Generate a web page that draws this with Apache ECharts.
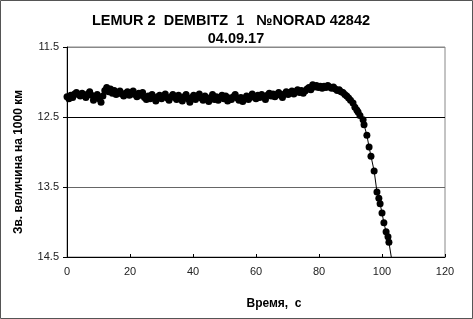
<!DOCTYPE html>
<html><head><meta charset="utf-8">
<script src="https://cdn.jsdelivr.net/npm/echarts@6/dist/echarts.min.js"></script>
<style>html,body{margin:0;padding:0;background:#fff}#c{width:473px;height:319px}</style>
</head><body><div id="c"></div>
<script>
var titleLines = ['LEMUR 2  DEMBITZ  1   \u2116NORAD 42842', '04.09.17'];
var xName = 'Время,  с';
var yName = 'Зв. величина на 1000 км';
var yTicks = [11.5, 12.5, 13.5, 14.5];
var xTicks = [0, 20, 40, 60, 80, 100, 120];

var times = [
 0.0,0.6,1.2,1.8,2.4,3.0,3.6,4.2,4.8,5.4,
 6.0,6.6,7.2,7.8,8.4,9.0,9.6,10.2,10.8,11.4,
 12.0,12.6,13.2,13.8,14.4,15.0,15.6,16.2,16.8,17.4,
 18.0,18.6,19.2,19.8,20.4,21.0,21.6,22.2,22.8,23.4,
 24.0,24.6,25.2,25.8,26.4,27.0,27.6,28.2,28.8,29.4,
 30.0,30.6,31.2,31.8,32.4,33.0,33.6,34.2,34.8,35.4,
 36.0,36.6,37.2,37.8,38.4,39.0,39.6,40.2,40.8,41.4,
 42.0,42.6,43.2,43.8,44.4,45.0,45.6,46.2,46.8,47.4,
 48.0,48.6,49.2,49.8,50.4,51.0,51.6,52.2,52.8,53.4,
 54.0,54.6,55.2,55.8,56.4,57.0,57.6,58.2,58.8,59.4,
 60.0,60.6,61.2,61.8,62.4,63.0,63.6,64.2,64.8,65.4,
 66.0,66.6,67.2,67.8,68.4,69.0,69.6,70.2,70.8,71.4,
 72.0,72.6,73.2,73.8,74.4,75.0,75.6,76.2,76.8,77.4,
 78.0,78.6,79.2,79.8,80.4,81.0,81.6,82.2,82.8,83.4,
 84.0,84.6,85.2,85.8,86.4,87.0,87.6,88.2,
 88.8,89.4,90.0,90.8,91.4,92.0,92.4,93.0,94.0,94.3,
 95.2,95.9,96.5,97.5,98.4,99.0,99.4,100.0,100.6,101.3,
 101.9,102.2,103.3
];
var mags = [
 12.21,12.24,12.19,12.22,12.17,12.15,12.18,12.20,12.16,12.19,
 12.22,12.17,12.14,12.19,12.26,12.21,12.18,12.24,12.29,12.20,
 12.12,12.08,12.14,12.10,12.16,12.12,12.18,12.15,12.13,12.17,
 12.20,12.16,12.14,12.19,12.17,12.13,12.18,12.21,12.16,12.19,
 12.15,12.22,12.25,12.20,12.24,12.18,12.23,12.27,12.21,12.19,
 12.24,12.20,12.17,12.23,12.26,12.21,12.18,12.22,12.25,12.19,
 12.23,12.27,12.21,12.18,12.24,12.29,12.22,12.19,12.25,12.21,
 12.17,12.23,12.26,12.20,12.24,12.28,12.22,12.18,12.25,12.21,
 12.26,12.22,12.19,12.24,12.20,12.27,12.23,12.25,12.21,12.18,
 12.23,12.26,12.22,12.28,12.24,12.20,12.25,12.22,12.17,12.21,
 12.24,12.19,12.22,12.18,12.21,12.25,12.19,12.16,12.20,12.17,
 12.21,12.18,12.15,12.19,12.22,12.17,12.14,12.18,12.15,12.13,
 12.17,12.14,12.11,12.15,12.12,12.16,12.13,12.10,12.08,12.11,
 12.04,12.07,12.05,12.08,12.06,12.09,12.06,12.08,12.05,12.07,
 12.09,12.07,12.10,12.12,12.11,12.14,12.15,12.18,
 12.20,12.23,12.26,12.30,12.36,12.40,12.43,12.48,12.54,12.61,
 12.76,12.93,13.06,13.27,13.57,13.66,13.74,13.87,14.01,14.14,
 14.21,14.29,14.60
];

var data = times.map(function (t, i) {
  var item = { value: [t, mags[i]] };
  if (mags[i] > yTicks[yTicks.length - 1]) item.symbol = 'none';
  return item;
});

var font = 'Liberation Sans, Arial, sans-serif';
var chart = echarts.init(document.getElementById('c'), null, { renderer: 'canvas' });
chart.setOption({
  animation: false,
  backgroundColor: '#fff',
  title: [
    { text: titleLines[0], left: 226, top: 8, textAlign: 'center',
      textStyle: { fontFamily: font, fontSize: 14.5, fontWeight: 'bold', color: '#000' } },
    { text: titleLines[1], left: 231, top: 26, textAlign: 'center',
      textStyle: { fontFamily: font, fontSize: 14.5, fontWeight: 'bold', color: '#000' } }
  ],
  graphic: [
    { type: 'rect', shape: { x: 0.5, y: 0.5, width: 472, height: 318 },
      style: { fill: 'none', stroke: '#555', lineWidth: 1 }, silent: true }
  ],
  grid: { left: 67, right: 28, top: 47, bottom: 62, show: true,
          borderColor: '#888', borderWidth: 1, backgroundColor: 'transparent' },
  xAxis: {
    type: 'value', min: xTicks[0], max: xTicks[xTicks.length - 1], interval: 20,
    name: xName, nameLocation: 'middle', nameGap: 41,
    nameTextStyle: { fontFamily: font, fontSize: 12, fontWeight: 'bold', color: '#000', padding: [0, 0, 0, 36] },
    axisLine: { show: true, lineStyle: { color: '#000', width: 1 } },
    axisTick: { show: true, inside: true, length: 3, lineStyle: { color: '#000' } },
    axisLabel: { fontFamily: font, fontSize: 11, color: '#222', margin: 9 },
    splitLine: { show: false }
  },
  yAxis: {
    type: 'value', inverse: true, min: yTicks[0], max: yTicks[yTicks.length - 1], interval: 1,
    name: yName, nameLocation: 'middle', nameGap: 42, nameRotate: 90,
    nameTextStyle: { fontFamily: font, fontSize: 12, fontWeight: 'bold', color: '#000', padding: [0, 20, 0, 0] },
    axisLine: { show: true, lineStyle: { color: '#000', width: 1 } },
    axisTick: { show: true, length: 4, lineStyle: { color: '#000' } },
    axisLabel: { fontFamily: font, fontSize: 11, color: '#222', margin: 8,
                 formatter: function (v) { return v.toFixed(1); } },
    splitLine: { show: true, lineStyle: { color: ['#888', '#000', '#666', '#000'], width: 1 } }
  },
  series: [{
    type: 'line', data: data, clip: true,
    symbol: 'circle', symbolSize: 7, showAllSymbol: true,
    itemStyle: { color: '#000' },
    lineStyle: { color: '#000', width: 1 }
  }]
});
</script></body></html>
